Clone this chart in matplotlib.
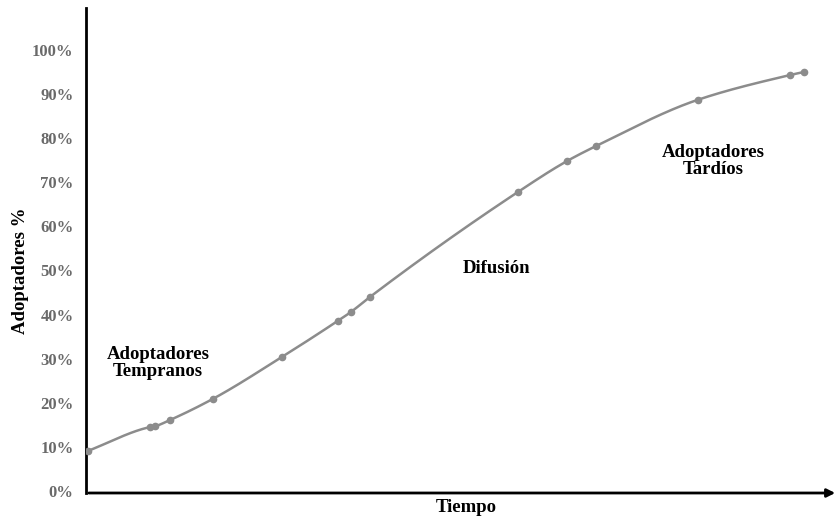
import numpy as np
import matplotlib.pyplot as plt

# puntos (tiempo en unidades arbitrarias, adoptadores en %)
tiempo = [2, 64, 69, 84, 127, 196, 252, 265, 284, 432, 481, 510, 612, 704, 718]
adoptadores = [9.1, 14.5, 14.7, 16.1, 20.9, 30.4, 38.6, 40.6, 44.0, 67.8, 74.8, 78.2, 88.7, 94.3, 95.0]
yticks = [0, 10, 20, 30, 40, 50, 60, 70, 80, 90, 100]


def pchip(x, y, xs):
    # interpolacion monotona para dibujar la curva suave
    x = np.asarray(x, float)
    y = np.asarray(y, float)
    h = np.diff(x)
    d = np.diff(y) / h
    m = np.zeros_like(y)
    for k in range(1, len(x) - 1):
        if d[k - 1] * d[k] > 0:
            w1 = 2 * h[k] + h[k - 1]
            w2 = h[k] + 2 * h[k - 1]
            m[k] = (w1 + w2) / (w1 / d[k - 1] + w2 / d[k])
    m[0] = d[0]
    m[-1] = d[-1]
    idx = np.clip(np.searchsorted(x, xs) - 1, 0, len(x) - 2)
    t = (xs - x[idx]) / h[idx]
    h00 = 2 * t**3 - 3 * t**2 + 1
    h10 = t**3 - 2 * t**2 + t
    h01 = -2 * t**3 + 3 * t**2
    h11 = t**3 - t**2
    return h00 * y[idx] + h10 * h[idx] * m[idx] + h01 * y[idx + 1] + h11 * h[idx] * m[idx + 1]


plt.rcParams['font.family'] = ['Liberation Serif', 'DejaVu Serif']
plt.rcParams['font.weight'] = 'bold'

fig = plt.figure(figsize=(8.38, 5.18), dpi=100)
ax = fig.add_axes([86 / 838, 25 / 518, 752 / 838, 485 / 518])
ax.set_xlim(0, 752)
ax.set_ylim(-0.45, 109.5)

xs = np.linspace(0, tiempo[-1], 400)
ax.plot(xs, pchip(tiempo, adoptadores, xs), color='#8c8c8c', lw=1.8, zorder=3)
ax.plot(tiempo, adoptadores, 'o', color='#8c8c8c', ms=4.5, zorder=4)

for s in ax.spines.values():
    s.set_visible(False)
ax.plot([0, 0], [0, 1], transform=ax.transAxes, color='black', lw=2, clip_on=False)
ax.annotate('', xy=(1.0, 0), xytext=(0, 0), xycoords='axes fraction',
            arrowprops=dict(arrowstyle='-|>', color='black', lw=2, mutation_scale=12))

ax.set_xticks([])
ax.set_yticks(yticks)
ax.set_yticklabels([f'{v}%' for v in yticks], color='#6a6a6a', fontsize=12, fontweight='bold')
ax.tick_params(axis='y', length=0, pad=9)

ax.set_ylabel('Adoptadores %', fontsize=13.5, fontweight='bold')
ax.yaxis.set_label_coords(-57 / 752, (493 - 271) / 485)
fig.text(466 / 838, 1 - 507 / 518, 'Tiempo', ha='center', va='center',
         fontsize=13.5, fontweight='bold')

ax.text(72, 29.0, 'Adoptadores\nTempranos', ha='center', va='center', fontsize=13.5,
        fontweight='bold', linespacing=1.05)
ax.text(411, 50.4, 'Difusión', ha='center', va='center', fontsize=13.5, fontweight='bold')
ax.text(627, 74.8, 'Adoptadores\nTardíos', ha='center', va='center', fontsize=13.5,
        fontweight='bold', linespacing=1.05)

fig.savefig('out.png', dpi=100)
